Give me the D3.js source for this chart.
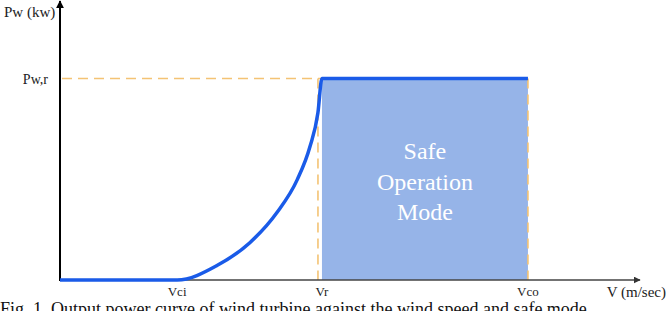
<!DOCTYPE html>
<html>
<head>
<meta charset="utf-8">
<script src="https://cdn.jsdelivr.net/npm/d3@7"></script>
<style>
  body { margin: 0; background: #fff; }
</style>
</head>
<body>
<svg id="power_curve"></svg>
<script>
// wind speed in arbitrary units, power relative to rated power
let tickNames = ["Vci", "Vr", "Vco"]
let tickSpeeds = [20.3, 45.4, 81.1]
let ratedPower = 1

let curveSpeed = [0, 20.3, 27.2, 32.9, 37.6, 41.1, 43.3, 44.7, 45.4, 81.1]
let curvePower = [0, 0, 0.072, 0.185, 0.335, 0.497, 0.66, 0.83, 1, 1]

let safeText = ["Safe", "Operation", "Mode"]

let width = 668
let height = 311
let serif = "'Liberation Serif', 'DejaVu Serif', 'Times New Roman', Times, serif"

let xScale = d3.scaleLinear().domain([0, 100]).range([60, 637])
let yScale = d3.scaleLinear().domain([0, 1.37]).range([280, 4])

let data = curveSpeed.map((v, i) => ({v: v, p: curvePower[i]}))

let svg = d3.select("#power_curve")
    .attr("width", width)
    .attr("height", height)
    .style("font-family", serif)

let defs = svg.append("defs")
defs.append("marker")
    .attr("id", "arrow_x")
    .attr("viewBox", "0 0 10 10")
    .attr("refX", 9).attr("refY", 5)
    .attr("markerWidth", 7).attr("markerHeight", 7)
    .attr("markerUnits", "userSpaceOnUse")
    .attr("orient", "auto")
    .append("path").attr("d", "M0,0 L10,5 L0,10 z").attr("fill", "#333")
defs.append("marker")
    .attr("id", "arrow_y")
    .attr("viewBox", "0 0 10 10")
    .attr("refX", 9).attr("refY", 5)
    .attr("markerWidth", 8).attr("markerHeight", 8)
    .attr("markerUnits", "userSpaceOnUse")
    .attr("orient", "auto")
    .append("path").attr("d", "M0,0 L10,5 L0,10 z").attr("fill", "#000")

// safe operation area
svg.append("rect")
    .attr("x", xScale(tickSpeeds[1]))
    .attr("y", yScale(ratedPower))
    .attr("width", xScale(tickSpeeds[2]) - xScale(tickSpeeds[1]))
    .attr("height", yScale(0) - yScale(ratedPower))
    .attr("fill", "#96b4e8")

// dashed guides
let dash = "10,6"
svg.append("line")
    .attr("x1", xScale(0) + 2).attr("x2", xScale(tickSpeeds[1]))
    .attr("y1", yScale(ratedPower)).attr("y2", yScale(ratedPower))
    .attr("stroke", "#f4c374").attr("stroke-width", 1.6)
    .attr("stroke-dasharray", dash)
svg.selectAll(".vguide")
    .data([tickSpeeds[1], tickSpeeds[2]])
    .enter().append("line")
    .attr("class", "vguide")
    .attr("x1", (d, i) => xScale(d) - (i == 0 ? 4 : 0))
    .attr("x2", (d, i) => xScale(d) - (i == 0 ? 4 : 0))
    .attr("y1", yScale(ratedPower)).attr("y2", yScale(0))
    .attr("stroke", "#f4c374").attr("stroke-width", 1.6)
    .attr("stroke-dasharray", dash)

// axes
svg.append("line")
    .attr("x1", xScale(0)).attr("x2", 640)
    .attr("y1", yScale(0)).attr("y2", yScale(0))
    .attr("stroke", "#444").attr("stroke-width", 1.6)
    .attr("marker-end", "url(#arrow_x)")
svg.append("line")
    .attr("x1", xScale(0)).attr("x2", xScale(0))
    .attr("y1", yScale(0) + 1).attr("y2", 1)
    .attr("stroke", "#000").attr("stroke-width", 2)
    .attr("marker-end", "url(#arrow_y)")

// power curve
let line = d3.line()
    .x(d => xScale(d.v))
    .y(d => yScale(d.p))
    .curve(d3.curveMonotoneX)

svg.append("path")
    .datum(data)
    .attr("d", line)
    .attr("fill", "none")
    .attr("stroke", "#1a5be8")
    .attr("stroke-width", 3.5)
    .attr("stroke-linejoin", "round")

// labels
svg.selectAll(".tick_label")
    .data(tickNames)
    .enter().append("text")
    .attr("class", "tick_label")
    .text(d => d)
    .attr("x", (d, i) => xScale(tickSpeeds[i]))
    .attr("y", 296)
    .attr("text-anchor", "middle")
    .attr("font-size", 13)
    .attr("fill", "#222")

svg.append("text")
    .text("V (m/sec)")
    .attr("x", 666).attr("y", 297)
    .attr("text-anchor", "end")
    .attr("font-size", 15)
    .attr("fill", "#222")

svg.append("text")
    .text("Pw (kw)")
    .attr("x", 4).attr("y", 17)
    .attr("font-size", 15)
    .attr("fill", "#222")

svg.append("text")
    .text("Pw,r")
    .attr("x", 48).attr("y", yScale(ratedPower) + 5)
    .attr("text-anchor", "end")
    .attr("font-size", 14)
    .attr("fill", "#222")

svg.selectAll(".safe_text")
    .data(safeText)
    .enter().append("text")
    .attr("class", "safe_text")
    .text(d => d)
    .attr("x", (xScale(tickSpeeds[1]) + xScale(tickSpeeds[2])) / 2)
    .attr("y", (d, i) => 159 + i * 30.5)
    .attr("text-anchor", "middle")
    .attr("font-size", 24)
    .attr("fill", "#fff")

svg.append("text")
    .text("Fig. 1. Output power curve of wind turbine against the wind speed and safe mode")
    .attr("x", 0).attr("y", 315)
    .attr("font-size", 18)
    .attr("fill", "#111")
</script>
</body>
</html>
